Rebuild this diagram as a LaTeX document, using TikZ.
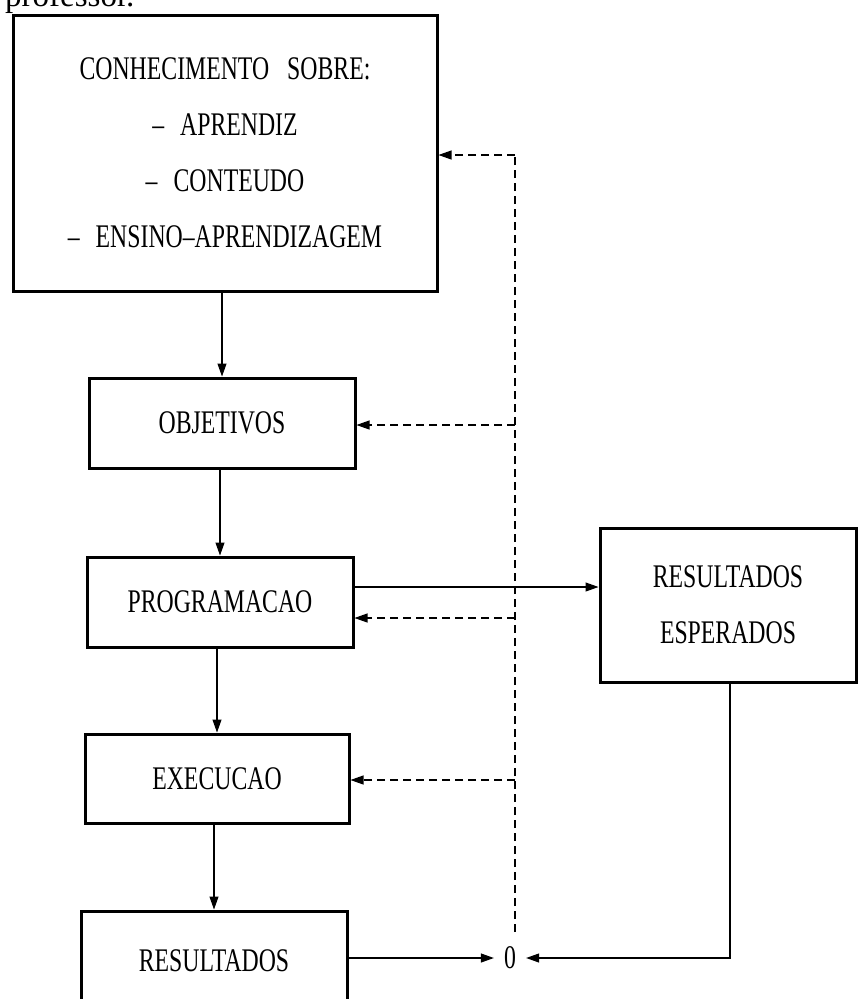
\documentclass[tikz,border=0pt]{standalone}
\usepackage{fontspec}
\setmainfont{Liberation Serif}
\newfontfamily\cond[FakeStretch=0.72,Ligatures=TeX]{Liberation Serif}
\usetikzlibrary{arrows.meta}
\begin{document}
\begin{tikzpicture}[x=1pt,y=-1pt,
  box/.style={draw, line width=3pt, inner sep=0pt, align=center,
    font=\cond\fontsize{33}{56}\selectfont},
  lbl/.style={inner sep=0pt, font=\cond\fontsize{33}{40}\selectfont},
  conn/.style={line width=1.1pt, -{Triangle[length=13pt,width=9pt]}},
  fb/.style={line width=1.1pt, dash pattern=on 8pt off 5pt},
  fbarr/.style={fb, -{Triangle[length=13pt,width=9pt]}}]
\useasboundingbox (0,0) rectangle (858,999);
% partial caption at the top edge
\node[anchor=base west, inner sep=0pt, font=\fontsize{33}{40}\selectfont] (prof) at (5,6) {professor.};
% boxes
\node[box, minimum width=424pt, minimum height=276pt] (top) at (225,153)
  {CONHECIMENTO\hspace{18pt}SOBRE:\\
   \textendash\hspace{16pt}APRENDIZ\\
   \textendash\hspace{16pt}CONTEUDO\\
   \textendash\hspace{16pt}ENSINO\textendash APRENDIZAGEM};
\node[box, minimum width=266pt, minimum height=90pt] (obj) at (222,423) {OBJETIVOS};
\node[box, minimum width=266pt, minimum height=90pt] (prog) at (220,602) {PROGRAMACAO};
\node[box, minimum width=264pt, minimum height=89pt] (exe) at (217,778.5) {EXECUCAO};
\node[box, minimum width=266pt, minimum height=100pt] (res) at (214,961) {RESULTADOS};
\node[box, minimum width=256pt, minimum height=154pt] (esp) at (728,605) {RESULTADOS\\ESPERADOS};
\node[lbl] (zero) at (510,958) {0};
% solid flow
\draw[conn] (obj.north |- top.south) -- (obj.north);
\draw[conn] (prog.north |- obj.south) -- (prog.north);
\draw[conn] (exe.north |- prog.south) -- (exe.north);
\draw[conn] (res.north |- exe.south) -- (res.north);
\draw[conn] ([yshift=15pt]prog.east) -- ([yshift=15pt]prog.east -| esp.west);
\draw[conn] (res.east |- zero.west) -- ([xshift=-10pt]zero.west);
\draw[conn] ([xshift=2pt]esp.south) |- ([xshift=10pt]zero.east);
% dashed feedback
\coordinate (fbot) at (515,932);
\coordinate (ftop) at (515,155);
\draw[fb] (fbot) -- (ftop);
\draw[fbarr] (ftop) -- (ftop -| top.east);
\draw[fbarr] ([yshift=-2pt]obj.east -| ftop) -- ([yshift=-2pt]obj.east);
\draw[fbarr] ([yshift=-16pt]prog.east -| ftop) -- ([yshift=-16pt]prog.east);
\draw[fbarr] ([yshift=-1.5pt]exe.east -| ftop) -- ([yshift=-1.5pt]exe.east);
\end{tikzpicture}
\end{document}
